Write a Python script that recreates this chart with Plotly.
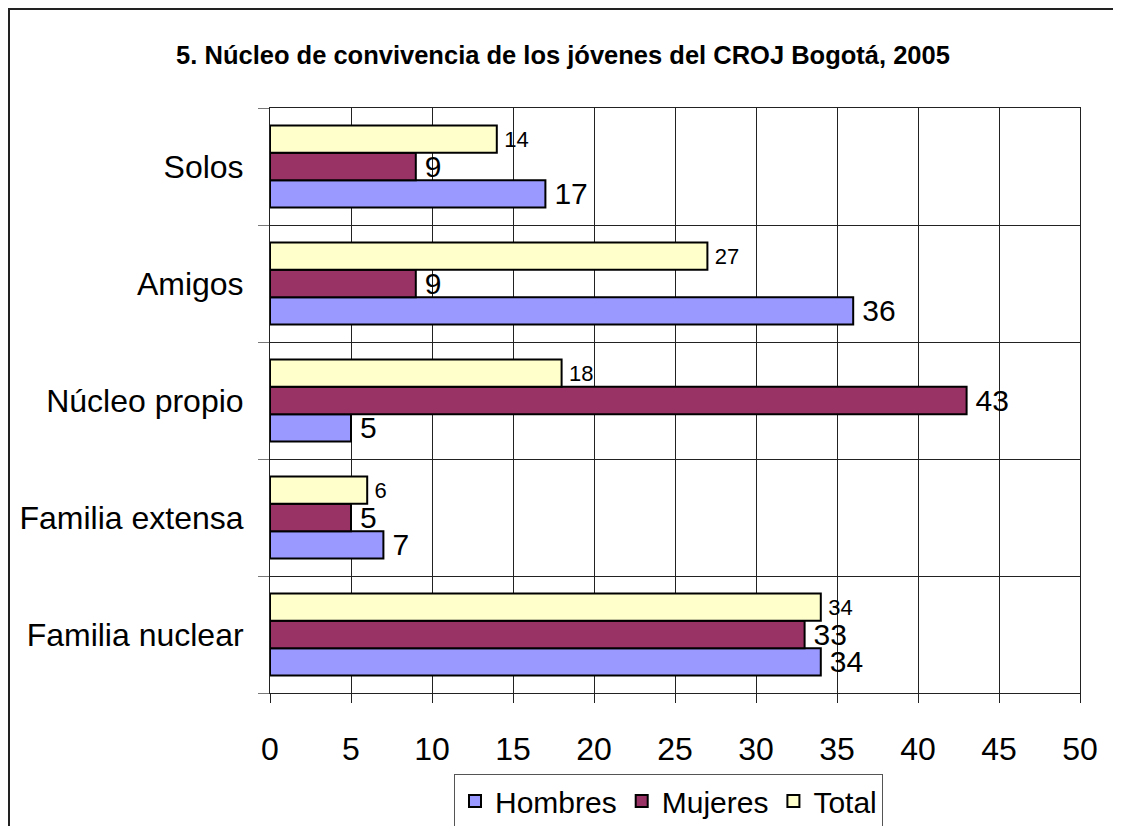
import plotly.graph_objects as go

categories = ["Familia nuclear", "Familia extensa", "Núcleo propio", "Amigos", "Solos"]
hombres = [34, 7, 5, 36, 17]
mujeres = [33, 5, 43, 9, 9]
total = [34, 6, 18, 27, 14]
x_ticks = [0, 5, 10, 15, 20, 25, 30, 35, 40, 45, 50]

title_text = "5. Núcleo de convivencia de los jóvenes del CROJ Bogotá, 2005"

# page body has an 8px margin; work in page pixels and convert
OFF = 8
W, H = 1121 - 2 * OFF, 826 - OFF
L, R, T, B = 270 - OFF, 1080 - OFF, 108 - OFF, 693 - OFF

FONT = "Arial, 'Liberation Sans', sans-serif"

fig = go.Figure()
series = [
    ("Hombres", hombres, "#9999FF", 30),
    ("Mujeres", mujeres, "#993366", 30),
    ("Total", total, "#FFFFCC", 22),
]
for name, vals, color, fs in series:
    fig.add_trace(go.Bar(
        name=name, y=categories, x=vals, orientation="h",
        marker=dict(color=color, line=dict(color="black", width=2)),
        text=vals, texttemplate="\u2009%{x}", textposition="outside",
        textfont=dict(family=FONT, size=fs, color="black"),
        constraintext="none", cliponaxis=False,
    ))

def px2x(p):
    return (p - OFF - L) / (R - L)

def py2y(p):
    return (B - (p - OFF)) / (B - T)

fig.update_layout(
    width=W, height=H,
    margin=dict(l=L, r=W - R, t=T, b=H - B, pad=0, autoexpand=False),
    paper_bgcolor="white", plot_bgcolor="white",
    barmode="group", bargap=0.3, bargroupgap=0,
    title=dict(
        text="<b>" + title_text + "</b>",
        font=dict(family=FONT, size=25.5, color="black"),
        x=(563 - OFF) / W, xref="container", xanchor="center",
        y=1 - (55 - OFF) / H, yref="container", yanchor="middle",
    ),
    font=dict(family=FONT, color="black"),
    xaxis=dict(
        range=[0, 50], tickvals=x_ticks, showgrid=True, gridcolor="#222", gridwidth=1,
        showline=True, linecolor="#222", linewidth=1, mirror=True,
        ticks="outside", ticklen=9, tickcolor="#222",
        tickfont=dict(family=FONT, size=32, color="black"),
        ticklabelstandoff=19, zeroline=False,
    ),
    yaxis=dict(
        type="category", range=[-0.5, 4.5], tickson="boundaries",
        showgrid=True, gridcolor="#222", gridwidth=1,
        showline=True, linecolor="#222", linewidth=1, mirror=True,
        ticks="outside", ticklen=11, tickcolor="#777",
        tickfont=dict(family=FONT, size=32, color="black"),
        ticklabelstandoff=19,
    ),
    legend=dict(
        orientation="h", x=px2x(454), xanchor="left", y=py2y(774), yanchor="top",
        bordercolor="#555", borderwidth=1, bgcolor="white",
        font=dict(family=FONT, size=30, color="black"),
        traceorder="normal", itemwidth=30,
    ),
    shapes=[dict(
        type="rect", xref="paper", yref="paper",
        x0=px2x(OFF + 1), x1=px2x(1160), y0=py2y(900), y1=py2y(OFF + 1),
        line=dict(color="#222", width=2), fillcolor="rgba(0,0,0,0)", layer="below",
    )],
)

fig.write_html("out.html")
